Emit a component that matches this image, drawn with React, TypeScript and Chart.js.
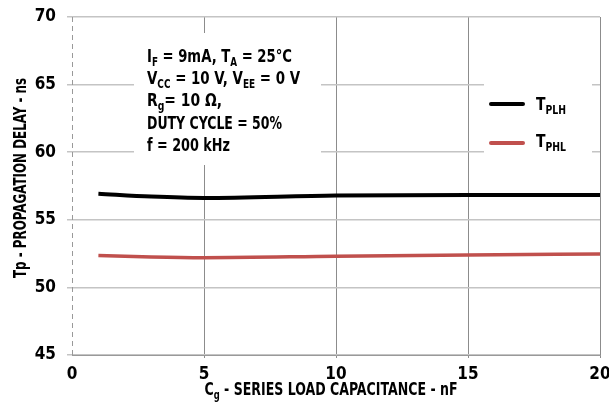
import React, { useEffect, useRef } from "react";
import { Chart, registerables } from "chart.js";

Chart.register(...registerables);

const capacitance = [1, 3, 5, 10, 15, 20];
const tplhValues = [56.93, 56.72, 56.62, 56.8, 56.83, 56.83];
const tphlValues = [52.36, 52.25, 52.2, 52.3, 52.39, 52.47];
const xTicks = [0, 5, 10, 15, 20];
const yTicks = [45, 50, 55, 60, 65, 70];

const FONT = '"Liberation Sans Narrow", "DejaVu Sans Condensed", sans-serif';
const RED = "#c0504d";

type Seg = [string, boolean];

function drawRich(
  ctx: CanvasRenderingContext2D,
  segs: Seg[],
  x: number,
  y: number,
  size: number,
  targetW?: number,
  align: "left" | "center" = "left"
) {
  const subSize = Math.round(size * 0.68);
  const mainFont = `bold ${size}px ${FONT}`;
  const subFont = `bold ${subSize}px ${FONT}`;
  let w = 0;
  for (const [t, sub] of segs) {
    ctx.font = sub ? subFont : mainFont;
    w += ctx.measureText(t).width;
  }
  const sx = targetW ? targetW / w : 1;
  ctx.save();
  ctx.translate(align === "center" ? x - (w * sx) / 2 : x, y);
  ctx.scale(sx, 1);
  ctx.textBaseline = "alphabetic";
  ctx.textAlign = "left";
  ctx.fillStyle = "#000";
  let cx = 0;
  for (const [t, sub] of segs) {
    ctx.font = sub ? subFont : mainFont;
    ctx.fillText(t, cx, sub ? size * 0.2 : 0);
    cx += ctx.measureText(t).width;
  }
  ctx.restore();
}

const decorPlugin = {
  id: "decor",
  beforeDatasetsDraw(chart: any) {
    const { ctx, chartArea: a } = chart;
    ctx.save();
    ctx.fillStyle = "#fff";
    // annotation box
    ctx.fillRect(a.left + 62, a.top + 16, 187, 132);
    // legend box
    ctx.fillRect(a.left + 412, a.top + 59, 108, 84);
    // dashed left axis
    ctx.strokeStyle = "#999";
    ctx.lineWidth = 1;
    ctx.setLineDash([5, 4]);
    ctx.beginPath();
    ctx.moveTo(a.left + 0.5, a.top);
    ctx.lineTo(a.left + 0.5, a.bottom);
    ctx.stroke();
    ctx.restore();
  },
  afterDraw(chart: any) {
    const { ctx, chartArea: a } = chart;
    // annotation text
    const ax = a.left + 75;
    const lines: Seg[][] = [
      [["I", false], ["F", true], [" = 9mA, T", false], ["A", true], [" = 25°C", false]],
      [["V", false], ["CC", true], [" = 10 V, V", false], ["EE", true], [" = 0 V", false]],
      [["R", false], ["g", true], ["= 10 Ω,", false]],
      [["DUTY CYCLE = 50%", false]],
      [["f = 200 kHz", false]],
    ];
    const widths = [145, 153, 75, 135, 83];
    const baselines = [45, 67, 89, 112, 134];
    lines.forEach((l, i) => {
      drawRich(ctx, l, ax, a.top + baselines[i], 18, widths[i]);
    });
    // legend
    const lx = a.left + 419;
    ctx.save();
    ctx.lineCap = "round";
    ctx.lineWidth = 4;
    ctx.strokeStyle = "#000";
    ctx.beginPath();
    ctx.moveTo(lx, a.top + 87);
    ctx.lineTo(lx + 32, a.top + 87);
    ctx.stroke();
    ctx.strokeStyle = RED;
    ctx.beginPath();
    ctx.moveTo(lx, a.top + 126);
    ctx.lineTo(lx + 32, a.top + 126);
    ctx.stroke();
    ctx.restore();
    drawRich(ctx, [["T", false], ["PLH", true]], lx + 45, a.top + 93, 18, 30);
    drawRich(ctx, [["T", false], ["PHL", true]], lx + 45, a.top + 130, 18, 30);
    // x title
    drawRich(
      ctx,
      [["C", false], ["g", true], [" - SERIES LOAD CAPACITANCE - nF", false]],
      331,
      395,
      18,
      253,
      "center"
    );
    // y title
    ctx.save();
    ctx.translate(26, 178);
    ctx.rotate(-Math.PI / 2);
    drawRich(ctx, [["Tp - PROPAGATION DELAY - ns", false]], 0, 0, 17, 200, "center");
    ctx.restore();
  },
};

export default function App() {
  const ref = useRef<HTMLCanvasElement | null>(null);
  useEffect(() => {
    if (!ref.current) return;
    const chart = new Chart(ref.current, {
      type: "line",
      data: {
        datasets: [
          {
            label: "TPLH",
            data: capacitance.map((x, i) => ({ x, y: tplhValues[i] })),
            borderColor: "#000",
            borderWidth: 4,
            pointRadius: 0,
            cubicInterpolationMode: "monotone",
            fill: false,
          },
          {
            label: "TPHL",
            data: capacitance.map((x, i) => ({ x, y: tphlValues[i] })),
            borderColor: RED,
            borderWidth: 3.5,
            pointRadius: 0,
            cubicInterpolationMode: "monotone",
            fill: false,
          },
        ],
      },
      options: {
        animation: false,
        responsive: false,
        devicePixelRatio: 1,
        layout: { padding: { top: 17, right: 9, left: 0, bottom: 0 } },
        plugins: { legend: { display: false }, tooltip: { enabled: false } },
        scales: {
          x: {
            type: "linear",
            min: 0,
            max: 20,
            afterBuildTicks: (s: any) => {
              s.ticks = xTicks.map((v) => ({ value: v }));
            },
            afterFit: (s: any) => {
              s.height = 59;
              s.paddingLeft = 0;
              s.paddingRight = 0;
              s.paddingTop = 0;
              s.paddingBottom = 0;
            },
            ticks: {
              color: "#000",
              font: { family: FONT, size: 17, weight: "bold" },
              padding: 6,
            },
            grid: {
              color: (c: any) => (c.tick && c.tick.value === 0 ? "rgba(0,0,0,0)" : "#8c8c8c"),
              lineWidth: 1,
              drawTicks: true,
              tickLength: 3,
            },
            border: { display: true, color: "#999", width: 1 },
          },
          y: {
            min: 45,
            max: 70,
            afterBuildTicks: (s: any) => {
              s.ticks = yTicks.map((v) => ({ value: v }));
            },
            afterFit: (s: any) => {
              s.width = 72;
              s.paddingLeft = 0;
              s.paddingRight = 0;
              s.paddingTop = 0;
              s.paddingBottom = 0;
            },
            ticks: {
              color: "#000",
              font: { family: FONT, size: 17, weight: "bold" },
              padding: 11,
            },
            grid: {
              color: "#c4c4c4",
              lineWidth: 1.5,
              drawTicks: true,
              tickLength: 5,
            },
            border: { display: false },
          },
        },
      },
      plugins: [decorPlugin],
    } as any);
    return () => chart.destroy();
  }, []);
  return (
    <div style={{ position: "absolute", left: 0, top: 0, width: 609, height: 414, background: "#fff" }}>
      <canvas ref={ref} width={609} height={414} />
    </div>
  );
}
